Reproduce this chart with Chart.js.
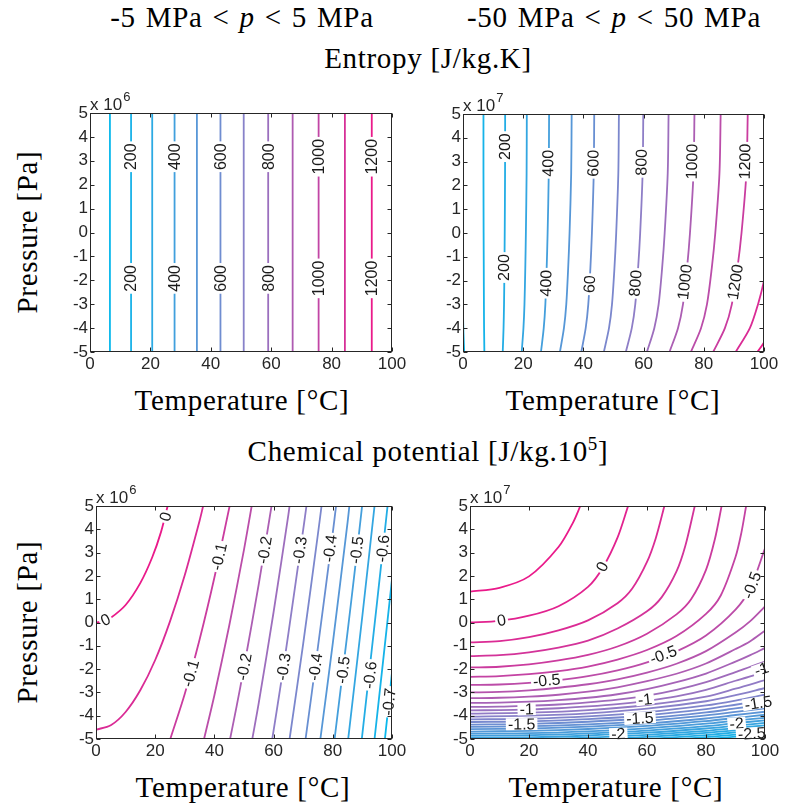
<!DOCTYPE html>
<html lang="en">
<head>
<meta charset="UTF-8">
<title>Entropy and chemical potential of water</title>
<script src="https://cdn.jsdelivr.net/npm/chart.js"></script>
<style>
  body { margin: 0; background: #fff; }
  #page { position: relative; width: 787px; height: 811px; overflow: hidden; }
  #page canvas { position: absolute; }
  .title {
    position: absolute; white-space: nowrap; line-height: 1;
    font-family: "Liberation Serif", "Times New Roman", serif; font-size: 29px;
    letter-spacing: 0.7px; color: #000; transform: translate(-50%, -50%);
  }
  .title.vert { transform: translate(-50%, -50%) rotate(-90deg); }
  .title sup { font-size: 19px; line-height: 0; }
  .range { word-spacing: 2px; }
</style>
</head>
<body>
<div id="page">
  <div class="title range" style="left:242px; top:17px">-5 MPa &lt; <i>p</i> &lt; 5 MPa</div>
  <div class="title range" style="left:614px; top:17px">-50 MPa &lt; <i>p</i> &lt; 50 MPa</div>
  <div class="title" style="left:428px; top:58px">Entropy [J/kg.K]</div>
  <div class="title" style="left:428px; top:451px">Chemical potential [J/kg.10<sup>5</sup>]</div>
  <div class="title vert" style="left:27px; top:232px">Pressure [Pa]</div>
  <div class="title vert" style="left:27px; top:622px">Pressure [Pa]</div>
  <div class="title" style="left:242px; top:400px">Temperature [°C]</div>
  <div class="title" style="left:613px; top:400px">Temperature [°C]</div>
  <div class="title" style="left:243px; top:787px">Temperature [°C]</div>
  <div class="title" style="left:616px; top:787px">Temperature [°C]</div>

  <canvas id="sLow"></canvas>
  <canvas id="sHigh"></canvas>
  <canvas id="gLow"></canvas>
  <canvas id="gHigh"></canvas>
</div>

<script>
const temperatureTicks = [0, 20, 40, 60, 80, 100];
const pressureTicks = [-5, -4, -3, -2, -1, 0, 1, 2, 3, 4, 5];

// Entropy, -5..5 MPa (pressure in 1e6 Pa). The isentropes are vertical here,
// so each one is just a temperature.
const entropyLowLevels = [100, 200, 300, 400, 500, 600, 700, 800, 900, 1000, 1100, 1200];
const entropyLowTemps = [6.6, 13.6, 20.6, 28.0, 35.4, 43.2, 50.9, 59.0, 67.1, 75.7, 84.4, 93.3];
const entropyLowLabels = [
  ['200', 13.6, 3.17], ['400', 28.0, 3.17], ['600', 43.2, 3.17],
  ['800', 59.0, 3.17], ['1000', 75.7, 3.17], ['1200', 93.3, 3.17],
  ['200', 13.6, -1.92], ['400', 28.0, -1.92], ['600', 43.2, -1.92],
  ['800', 59.0, -1.92], ['1000', 75.7, -1.92], ['1200', 93.3, -1.92]
];

// Entropy, -50..50 MPa (pressure in 1e7 Pa), points as [T, p]
const entropyHighLevels = [0, 100, 200, 300, 400, 500, 600, 700, 800, 900, 1000, 1100, 1200, 1300, 1400];
const entropyHighLines = [
  [[0.4, -5], [0.15, -4.2], [0, -3.4]],
  [[7.1, -5], [7.0, -4], [6.95, -3], [6.9, -1.5], [6.85, 0], [6.8, 2.5], [6.8, 5]],
  [[13.2, -5], [13.47, -4], [13.63, -3], [13.76, -1.5], [13.86, 0], [13.97, 2.5], [14.0, 5]],
  [[19.5, -5], [20.08, -4], [20.42, -3], [20.69, -1.5], [20.89, 0], [21.13, 2.5], [21.2, 5]],
  [[25.9, -5], [26.82, -4], [27.36, -3], [27.79, -1.5], [28.11, 0], [28.49, 2.5], [28.6, 5]],
  [[32.2, -5], [33.53, -4], [34.31, -3], [34.93, -1.5], [35.4, 0], [35.94, 2.5], [36.1, 5]],
  [[39.3, -5], [40.76, -4], [41.62, -3], [42.31, -1.5], [42.83, 0], [43.43, 2.5], [43.6, 5]],
  [[46.8, -5], [48.5, -4], [49.5, -3], [50.3, -1.5], [50.9, 0], [51.6, 2.5], [51.8, 5]],
  [[54.1, -5], [56.07, -4], [57.23, -3], [58.16, -1.5], [58.86, 0], [59.67, 2.5], [59.9, 5]],
  [[61.1, -5], [63.55, -4], [64.99, -3], [66.14, -1.5], [67.0, 0], [68.01, 2.5], [68.3, 5]],
  [[68.6, -5], [71.42, -4], [73.08, -3], [74.41, -1.5], [75.41, 0], [76.57, 2.5], [76.9, 5]],
  [[75.7, -5], [79.07, -4], [81.05, -3], [82.63, -1.5], [83.82, 0], [85.2, 2.5], [85.6, 5]],
  [[83.1, -5], [87.01, -4], [89.31, -3], [91.15, -1.5], [92.53, 0], [94.14, 2.5], [94.6, 5]],
  [[90.6, -5], [95.3, -4], [98.0, -3], [100, -2], [101.3, -1]],
  [[97.8, -5], [100, -4.6], [101.5, -4.2]]
];
const entropyHighLabels = [
  ['200', 13.8, 3.63], ['400', 28.2, 2.93], ['600', 43.2, 2.93],
  ['800', 59.2, 2.97], ['1000', 76.0, 3.0], ['1200', 93.6, 3.0],
  ['200', 13.5, -1.45], ['400', 27.5, -2.11], ['60', 42.0, -2.15],
  ['800', 57.2, -2.11], ['1000', 73.6, -2.06], ['1200', 90.4, -2.06]
];

// Chemical potential, -5..5 MPa (pressure in 1e6 Pa)
const chemLowLevels = [0, -0.05, -0.1, -0.15, -0.2, -0.25, -0.3, -0.35, -0.4, -0.45, -0.5, -0.55, -0.6, -0.65, -0.7];
const chemLowLines = [
  [[0, 0], [2.5, 0.05], [5, 0.2], [10, 0.75], [15, 1.7], [19, 2.8], [22, 3.9], [24.2, 5]],
  [[0, -4.6], [5, -4.41], [10, -3.84], [15, -2.9], [20, -1.61], [25, 0.05], [30, 2.04], [35, 4.37], [36.2, 5]],
  [[25.1, -5], [30, -3.06], [35, -0.73], [40, 1.93], [45.15, 5]],
  [[36.5, -5], [40, -3.12], [45, -0.14], [50, 3.13], [52.6, 5]],
  [[45.3, -5], [47.5, -3.6], [50, -1.92], [55, 1.66], [59.3, 5]],
  [[52.8, -5], [55, -3.44], [60, 0.45], [65, 4.63], [65.4, 5]],
  [[59.55, -5], [62.5, -2.6], [65, -0.47], [70, 3.99], [71.1, 5]],
  [[65.4, -5], [70, -0.91], [75, 3.82], [76.2, 5]],
  [[70.8, -5], [75, -1.03], [80, 3.86], [81.1, 5]],
  [[75.8, -5], [80, -0.89], [85, 4.31], [85.6, 5]],
  [[80.6, -5], [85, -0.39], [87.5, 2.3], [89.9, 5]],
  [[85.2, -5], [90, 0.3], [94.1, 5]],
  [[89.8, -5], [95, 0.93], [98.5, 5]],
  [[94.1, -5], [97, -1.65], [100, 1.85]],
  [[97.6, -5], [100, -2.15]]
];
const chemLowLabels = [
  ['0', 23.4, 4.55], ['0', 3.2, 0.12],
  ['-0.1', 41.5, 2.83], ['-0.2', 56.9, 3.11], ['-0.3', 68.8, 3.11],
  ['-0.4', 79.0, 3.18], ['-0.5', 88.0, 3.11], ['-0.6', 96.8, 3.18],
  ['-0.1', 31.9, -2.18], ['-0.2', 50.0, -1.9], ['-0.3', 63.3, -1.9],
  ['-0.4', 74.1, -1.9], ['-0.5', 83.4, -2.04], ['-0.6', 92.5, -2.25],
  ['-0.7', 98.9, -3.4]
];

// Chemical potential, -50..50 MPa (pressure in 1e7 Pa)
const chemHighLevels = [0.1, 0, -0.1, -0.2, -0.3, -0.4, -0.5, -0.6, -0.7, -0.8, -0.9, -1.0, -1.1, -1.2,
  -1.3, -1.4, -1.5, -1.6, -1.7, -1.8, -1.9, -2.0, -2.1, -2.2, -2.3, -2.4, -2.5, -2.6, -2.7, -2.8];
const chemHighLines = [
  [[0, 1.32], [10, 1.49], [20, 1.98], [30, 3.24], [35, 4.31], [37.4, 5]],
  [[0, 0], [10, 0.07], [20, 0.29], [30, 0.7], [40, 1.53], [45, 2.35], [50, 3.64], [53.6, 5]],
  [[0, -0.85], [10, -0.8], [20, -0.63], [30, -0.34], [40, 0.09], [50, 0.83], [55, 1.46], [60, 2.6], [63, 3.63], [65.9, 5]],
  [[0, -1.44], [10, -1.4], [20, -1.28], [30, -1.08], [40, -0.78], [50, -0.26], [60, 0.48], [65, 1.09], [70, 2.19], [73, 3.29], [76.2, 5]],
  [[0, -1.93], [10, -1.9], [20, -1.8], [30, -1.63], [40, -1.39], [50, -1.03], [60, -0.48], [70, 0.35], [75, 1.01], [80, 2.26], [83, 3.57], [85.3, 5]],
  [[0, -2.33], [10, -2.3], [20, -2.22], [30, -2.09], [40, -1.89], [50, -1.59], [60, -1.18], [70, -0.58], [80, 0.37], [85, 1.16], [90, 2.81], [92, 3.86], [93.6, 5]],
  [[0, -2.68], [10, -2.66], [20, -2.59], [30, -2.47], [40, -2.3], [50, -2.05], [60, -1.71], [70, -1.24], [80, -0.56], [90, 0.55], [95, 1.47], [100, 3.18]],
  [[0, -3.0], [10, -2.98], [20, -2.91], [30, -2.8], [40, -2.65], [50, -2.44], [60, -2.15], [70, -1.77], [80, -1.23], [90, -0.43], [95, 0.06], [100, 0.69]],
  [[0, -3.25], [10, -3.23], [20, -3.18], [30, -3.1], [40, -2.97], [50, -2.78], [60, -2.52], [70, -2.2], [80, -1.76], [90, -1.14], [95, -0.8], [100, -0.35]],
  [[0, -3.45], [10, -3.44], [20, -3.4], [30, -3.33], [40, -3.23], [50, -3.08], [60, -2.86], [70, -2.56], [80, -2.19], [90, -1.68], [95, -1.4], [100, -1.09]],
  [[0, -3.62], [10, -3.61], [20, -3.57], [30, -3.52], [40, -3.43], [50, -3.31], [60, -3.14], [70, -2.89], [80, -2.56], [90, -2.13], [95, -1.9], [100, -1.68]],
  [[0, -3.77], [10, -3.76], [20, -3.73], [30, -3.68], [40, -3.6], [50, -3.5], [60, -3.36], [70, -3.17], [80, -2.89], [90, -2.5], [95, -2.31], [100, -2.09]],
  [[0, -3.91], [20, -3.87], [40, -3.76], [60, -3.54], [80, -3.18], [90, -2.84], [100, -2.47]],
  [[0, -4.04], [20, -4.0], [40, -3.9], [60, -3.7], [80, -3.38], [90, -3.12], [100, -2.81]],
  [[0, -4.16], [20, -4.13], [40, -4.03], [60, -3.85], [80, -3.56], [90, -3.35], [100, -3.1]],
  [[0, -4.27], [20, -4.24], [40, -4.15], [60, -3.98], [80, -3.72], [90, -3.53], [100, -3.33]],
  [[0, -4.38], [20, -4.35], [40, -4.26], [60, -4.11], [80, -3.86], [90, -3.69], [100, -3.52]],
  [[0, -4.48], [20, -4.45], [40, -4.37], [60, -4.22], [80, -3.99], [90, -3.84], [100, -3.68]],
  [[0, -4.58], [20, -4.55], [40, -4.47], [60, -4.33], [80, -4.12], [90, -3.97], [100, -3.83]],
  [[0, -4.68], [20, -4.65], [40, -4.57], [60, -4.44], [80, -4.23], [90, -4.1], [100, -3.96]],
  [[0, -4.77], [20, -4.75], [40, -4.67], [60, -4.54], [80, -4.34], [90, -4.21], [100, -4.09]],
  [[0, -4.86], [20, -4.84], [40, -4.76], [60, -4.64], [80, -4.45], [90, -4.32], [100, -4.2]],
  [[0, -4.95], [20, -4.93], [40, -4.85], [60, -4.73], [80, -4.55], [90, -4.43], [100, -4.31]],
  [[24.3, -5], [40, -4.94], [60, -4.82], [80, -4.65], [90, -4.53], [100, -4.42]],
  [[45.4, -5], [60, -4.91], [80, -4.74], [90, -4.63], [100, -4.52]],
  [[59.4, -5], [70, -4.92], [80, -4.83], [90, -4.72], [100, -4.62]],
  [[70.7, -5], [80, -4.92], [90, -4.81], [100, -4.72]],
  [[80.5, -5], [90, -4.9], [100, -4.81]],
  [[89.1, -5], [100, -4.9]],
  [[97, -5], [100, -4.98]]
];
const chemHighLabels = [
  ['0', 44.8, 2.4], ['0', 10.7, 0.1],
  ['-0.5', 26.0, -2.48], ['-0.5', 65.5, -1.38], ['-0.5', 95.5, 1.6],
  ['-1', 19.2, -3.72], ['-1', 59.3, -3.3], ['-1', 98.8, -2.0],
  ['-1.5', 17.5, -4.36], ['-1.5', 57.6, -4.1], ['-1.5', 97.7, -3.45],
  ['-2', 50.3, -4.78], ['-2', 90.4, -4.33],
  ['-2.5', 95.5, -4.76]
];

const tickFont = { family: '"Liberation Sans", Arial, sans-serif', size: 17 };
const labelFont = '16px "Liberation Sans", Arial, sans-serif';
const inkColor = '#262626';

// cyan -> lavender -> pink, low level to high level
function levelColor(level, lo, hi) {
  let t = Math.min(1, Math.max(0, (level - lo) / (hi - lo)));
  t = Math.pow(t, 1.2);
  const stops = [[10, 184, 236], [140, 128, 200], [234, 26, 138]];
  const seg = t < 0.5 ? 0 : 1;
  const u = t < 0.5 ? t / 0.5 : (t - 0.5) / 0.5;
  const c = stops[seg].map((v, k) => Math.round(v + (stops[seg + 1][k] - v) * u));
  return 'rgb(' + c.join(',') + ')';
}

// direction of the contour segment closest to a pixel, kept readable
function lineAngle(chart, px, py) {
  let best = Infinity, ang = -Math.PI / 2;
  chart.data.datasets.forEach((ds, i) => {
    const pts = chart.getDatasetMeta(i).data;
    for (let k = 1; k < pts.length; k++) {
      const a = pts[k - 1], b = pts[k];
      const dx = b.x - a.x, dy = b.y - a.y;
      const len2 = dx * dx + dy * dy || 1;
      const u = Math.max(0, Math.min(1, ((px - a.x) * dx + (py - a.y) * dy) / len2));
      const d = Math.hypot(px - a.x - u * dx, py - a.y - u * dy);
      if (d < best) { best = d; ang = Math.atan2(dy, dx); }
    }
  });
  if (ang >= Math.PI / 2) ang -= Math.PI;
  if (ang < -Math.PI / 2) ang += Math.PI;
  return ang;
}

const contourDecor = {
  id: 'contourDecor',
  afterDatasetsDraw(chart, args, opts) {
    const { ctx, chartArea: a, scales: { x, y } } = chart;
    ctx.save();

    // inline labels sitting on the lines
    ctx.font = labelFont;
    ctx.textAlign = 'center';
    ctx.textBaseline = 'middle';
    for (const [text, tx, ty] of opts.labels) {
      const px = x.getPixelForValue(tx), py = y.getPixelForValue(ty);
      const w = ctx.measureText(text).width;
      ctx.save();
      ctx.translate(px, py);
      ctx.rotate(lineAngle(chart, px, py));
      ctx.fillStyle = '#fff';
      ctx.fillRect(-w / 2 - 2, -6, w + 4, 12);
      ctx.fillStyle = '#1a1a1a';
      ctx.fillText(text, 0, 1);
      ctx.restore();
    }

    // axes box with inward ticks on every side
    const L = Math.round(a.left) + 0.5, R = Math.round(a.right) - 0.5;
    const T = Math.round(a.top) + 0.5, B = Math.round(a.bottom) - 0.5;
    ctx.strokeStyle = inkColor;
    ctx.lineWidth = 1;
    ctx.strokeRect(L, T, R - L, B - T);
    ctx.beginPath();
    for (const v of temperatureTicks) {
      const px = Math.round(x.getPixelForValue(v)) + 0.5;
      ctx.moveTo(px, B); ctx.lineTo(px, B - 4);
      ctx.moveTo(px, T); ctx.lineTo(px, T + 4);
    }
    for (const v of pressureTicks) {
      const py = Math.round(y.getPixelForValue(v)) + 0.5;
      ctx.moveTo(L, py); ctx.lineTo(L + 4, py);
      ctx.moveTo(R, py); ctx.lineTo(R - 4, py);
    }
    ctx.stroke();

    // "x 10^n" multiplier over the pressure axis
    ctx.fillStyle = inkColor;
    ctx.textAlign = 'left';
    ctx.textBaseline = 'alphabetic';
    ctx.font = '17px "Liberation Sans", Arial, sans-serif';
    ctx.fillText('x 10', a.left, a.top - 3);
    const w = ctx.measureText('x 10').width;
    ctx.font = '13px "Liberation Sans", Arial, sans-serif';
    ctx.fillText(opts.exponent, a.left + w + 1, a.top - 12);
    ctx.restore();
  }
};

// box = plot area [left, top, right, bottom] in page pixels
function contourChart(id, box, lines, levels, lo, hi, labels, exponent) {
  const [L, T, R, B] = box;
  const cv = document.getElementById(id);
  cv.width = R - L + 70;
  cv.height = B - T + 63;
  cv.style.left = (L - 50) + 'px';
  cv.style.top = (T - 33) + 'px';

  return new Chart(cv, {
    type: 'scatter',
    data: {
      datasets: lines.map((pts, i) => ({
        data: pts.map(([tx, p]) => ({ x: tx, y: p })),
        showLine: true,
        borderColor: levelColor(levels[i], lo, hi),
        borderWidth: 1.8,
        pointRadius: 0,
        tension: 0.3
      }))
    },
    options: {
      responsive: false,
      animation: false,
      events: [],
      layout: { padding: { left: 0, top: 33, right: 20, bottom: 0 } },
      plugins: {
        legend: { display: false },
        tooltip: { enabled: false },
        contourDecor: { labels, exponent }
      },
      scales: {
        x: {
          type: 'linear', min: 0, max: 100,
          afterFit: s => { s.height = 30; },
          afterBuildTicks: s => { s.ticks = temperatureTicks.map(v => ({ value: v })); },
          grid: { display: false, drawTicks: false },
          border: { display: false },
          ticks: { font: tickFont, color: inkColor, padding: 2, maxRotation: 0, autoSkip: false }
        },
        y: {
          type: 'linear', min: -5, max: 5,
          afterFit: s => { s.width = 50; },
          afterBuildTicks: s => { s.ticks = pressureTicks.map(v => ({ value: v })); },
          grid: { display: false, drawTicks: false },
          border: { display: false },
          ticks: { font: tickFont, color: inkColor, padding: 2, autoSkip: false }
        }
      }
    },
    plugins: [contourDecor]
  });
}

contourChart('sLow', [90, 113, 392, 352],
  entropyLowTemps.map(t => [[t, -5], [t, 5]]), entropyLowLevels, 100, 1200, entropyLowLabels, '6');
contourChart('sHigh', [463, 114, 764, 352],
  entropyHighLines, entropyHighLevels, 0, 1400, entropyHighLabels, '7');
contourChart('gLow', [96, 506, 392, 739],
  chemLowLines, chemLowLevels, -0.7, 0, chemLowLabels, '6');
contourChart('gHigh', [470, 506, 765, 739],
  chemHighLines, chemHighLevels, -2.8, 0.1, chemHighLabels, '7');
</script>
</body>
</html>
